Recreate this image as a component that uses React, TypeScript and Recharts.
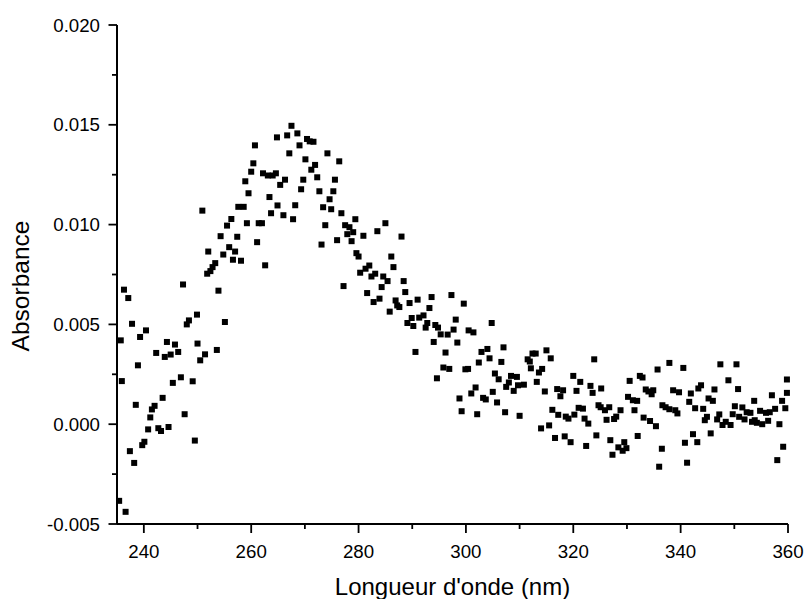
import { Scatter, ScatterChart, XAxis, YAxis, Label } from "recharts";

// [wavelength nm, absorbance]
const rise: [number, number][] = [
  [236.3, 0.00674], [237.1, 0.00632], [247.3, 0.007], [237.8, 0.00503], [240.4, 0.0047],
  [249.9, 0.00549], [248.4, 0.0052], [248.0, 0.005], [235.7, 0.0042], [239.3, 0.00437],
  [244.3, 0.00412], [245.8, 0.00399], [250.0, 0.00404], [242.3, 0.00357], [243.9, 0.00337],
  [245.0, 0.00349], [246.4, 0.00362], [250.5, 0.0032], [238.9, 0.00295], [235.9, 0.00216],
  [245.4, 0.00207], [246.9, 0.00235], [249.1, 0.00215], [243.5, 0.00132], [238.5, 0.00097],
  [242.0, 0.00092], [241.5, 0.00074], [247.6, 0.0005], [241.2, 0.00034], [240.8, -0.00026],
  [242.7, -0.0002], [243.2, -0.00034], [244.6, -0.00014], [240.1, -0.00088], [239.7, -0.00105],
  [249.5, -0.00082], [237.4, -0.00135], [238.2, -0.00194], [235.4, -0.00384], [236.6, -0.00439],
];

const shoulder: [number, number][] = [
  [264.8, 0.01437], [260.7, 0.01397], [260.4, 0.01307], [260.0, 0.01265], [262.2, 0.01257],
  [263.1, 0.01246], [264.0, 0.01246], [264.6, 0.01257], [258.9, 0.01217], [265.4, 0.01199],
  [259.5, 0.01157], [263.4, 0.01138], [264.9, 0.01096], [257.6, 0.01089], [258.6, 0.01089],
  [263.7, 0.01057], [250.9, 0.0107], [256.3, 0.01028], [255.5, 0.00995], [259.2, 0.01007],
  [261.4, 0.01007], [262.0, 0.01007], [254.3, 0.00942], [257.4, 0.00939], [261.1, 0.00912],
  [255.9, 0.00887], [252.0, 0.00865], [254.8, 0.0085], [257.0, 0.00865], [256.6, 0.00824],
  [258.1, 0.00819], [262.6, 0.00796], [253.3, 0.00807], [252.8, 0.00787], [252.4, 0.00767],
  [251.8, 0.00754], [253.9, 0.00669], [255.1, 0.00512], [253.6, 0.00372], [251.4, 0.0035],
];

const peak: [number, number][] = [
  [267.5, 0.01495], [266.7, 0.01447], [268.6, 0.01457], [270.4, 0.01429], [270.9, 0.01417],
  [271.6, 0.01415], [269.0, 0.01397], [267.1, 0.01357], [274.2, 0.01357], [276.4, 0.01317],
  [270.1, 0.01327], [271.9, 0.01299], [271.2, 0.01275], [266.3, 0.01225], [269.7, 0.01225],
  [272.3, 0.01237], [275.6, 0.01225], [269.3, 0.01177], [272.7, 0.01167], [275.3, 0.01167],
  [274.6, 0.01127], [268.2, 0.01097], [273.4, 0.01087], [274.9, 0.01077], [266.0, 0.01047],
  [267.8, 0.01027], [276.8, 0.01057], [279.4, 0.01027], [273.8, 0.00997], [277.5, 0.00997],
  [278.3, 0.00987], [279.0, 0.00962], [277.9, 0.00952], [276.0, 0.00922], [278.7, 0.00917],
  [273.1, 0.009], [279.6, 0.00857], [280.0, 0.0084], [280.3, 0.00759], [277.2, 0.00692],
];

const decay: [number, number][] = [
  [285.0, 0.01007], [283.5, 0.00967], [280.9, 0.00944], [288.0, 0.0094], [286.1, 0.0084],
  [286.5, 0.00787], [282.0, 0.00795], [281.3, 0.00779], [283.1, 0.00754], [282.4, 0.0074],
  [284.6, 0.0074], [285.4, 0.00717], [288.4, 0.00717], [284.3, 0.00687], [281.6, 0.00657],
  [288.7, 0.00662], [283.9, 0.00629], [282.8, 0.00612], [286.9, 0.0062], [287.2, 0.00595],
  [287.6, 0.00587], [289.5, 0.00607], [291.0, 0.00624], [293.6, 0.00637], [293.2, 0.00582],
  [285.8, 0.00564], [289.9, 0.00532], [289.1, 0.00507], [290.2, 0.00492], [291.3, 0.00534],
  [292.1, 0.00545], [292.5, 0.00484], [292.8, 0.00507], [294.3, 0.00497], [294.8, 0.00484],
  [295.3, 0.0045], [294.0, 0.00412], [290.6, 0.00362], [294.6, 0.0023],
];

const tail300: [number, number][] = [
  [297.3, 0.00647], [299.6, 0.00604], [304.8, 0.00507], [298.1, 0.00524], [296.6, 0.00449],
  [297.7, 0.00474], [300.5, 0.0047], [301.4, 0.0046], [298.4, 0.00409], [296.2, 0.00359],
  [304.0, 0.00377], [302.9, 0.00362], [307.0, 0.00385], [304.4, 0.0033], [302.4, 0.00309],
  [306.6, 0.00312], [295.8, 0.00284], [296.9, 0.00277], [299.9, 0.00275], [300.4, 0.00277],
  [305.4, 0.00254], [306.1, 0.00225], [308.4, 0.00242], [309.5, 0.00237], [308.0, 0.00209],
  [307.5, 0.00187], [308.9, 0.00167], [309.7, 0.00195], [301.8, 0.00184], [301.0, 0.00154],
  [305.0, 0.00162], [298.8, 0.00129], [303.2, 0.00132], [303.7, 0.00124], [305.8, 0.00109],
  [299.2, 0.00065], [302.1, 0.0005], [307.3, 0.0006], [310.0, 0.00042],
];

const tail315: [number, number][] = [
  [312.4, 0.00354], [313.0, 0.00354], [315.0, 0.0037], [315.8, 0.0033], [311.5, 0.00325],
  [311.9, 0.00314], [323.9, 0.00325], [312.1, 0.0028], [314.2, 0.00277], [313.6, 0.00259],
  [320.0, 0.00242], [321.3, 0.00212], [313.2, 0.00212], [310.8, 0.00198], [323.2, 0.00192],
  [325.2, 0.00179], [314.7, 0.00164], [317.0, 0.00176], [318.1, 0.0017], [317.6, 0.0014],
  [320.6, 0.00167], [323.6, 0.00157], [324.7, 0.00095], [325.1, 0.00085], [316.1, 0.00072],
  [317.2, 0.00047], [318.6, 0.00038], [319.1, 0.00028], [320.2, 0.00048], [321.0, 0.00082],
  [321.8, 0.00078], [322.1, 0.00028], [322.8, 0.00003], [315.5, -0.00006], [314.0, -0.00021],
  [324.3, -0.00056], [316.6, -0.00069], [318.4, -0.00061], [319.5, -0.0009], [322.4, -0.00109],
];

const tail330: [number, number][] = [
  [337.9, 0.00307], [335.7, 0.00274], [332.4, 0.00242], [332.9, 0.00234], [330.5, 0.00217],
  [333.5, 0.00174], [334.0, 0.00164], [334.9, 0.0017], [334.6, 0.0015], [338.6, 0.0017],
  [339.7, 0.0016], [330.2, 0.00137], [331.1, 0.0012], [331.9, 0.00117], [336.6, 0.00095],
  [337.2, 0.00085], [337.9, 0.00075], [339.0, 0.0007], [339.4, 0.00054], [325.9, 0.0007],
  [326.7, 0.00085], [328.8, 0.0007], [331.4, 0.0007], [328.0, 0.00038], [327.6, 0.00026],
  [326.2, 0.00022], [333.1, 0.00033], [334.3, 0.00016], [335.4, -0.0001], [332.0, -0.00059],
  [326.9, -0.0008], [329.5, -0.0009], [328.4, -0.00116], [329.9, -0.0012], [329.2, -0.00133],
  [327.3, -0.00153], [336.5, -0.00123], [336.0, -0.00213],
];

const tail350: [number, number][] = [
  [340.5, 0.00282], [347.4, 0.003], [350.4, 0.003], [348.9, 0.0022], [350.7, 0.00176],
  [346.3, 0.00174], [343.8, 0.00195], [343.3, 0.00179], [341.9, 0.00154], [345.2, 0.00129],
  [346.0, 0.00117], [341.6, 0.00112], [353.7, 0.00117], [357.0, 0.00145], [358.9, 0.00117],
  [359.8, 0.00157], [359.8, 0.00224], [342.7, 0.0008], [344.2, 0.00077], [350.1, 0.0009],
  [351.5, 0.00084], [352.3, 0.0006], [353.0, 0.00057], [354.8, 0.00067], [355.9, 0.00057],
  [356.6, 0.0006], [357.6, 0.00077], [359.5, 0.0008], [347.2, 0.00049], [346.8, 0.00024],
  [349.7, 0.0005], [344.9, 0.00037], [344.5, 0.0002], [348.4, 0.00012], [347.8, -0.00004],
  [349.3, -0.00004], [350.9, 0.00037], [351.9, 0.00024], [353.3, 0.00012], [354.2, 0.00007],
  [355.2, 0], [356.3, 0.00017], [353.8, 0.0002], [358.4, 0], [345.6, -0.00046],
  [342.3, -0.0005], [340.8, -0.00093], [343.1, -0.0009], [359.1, -0.00113], [358.0, -0.0018],
  [341.2, -0.00193],
];

const xTicks = [240, 250, 260, 270, 280, 290, 300, 310, 320, 330, 340, 350, 360];
const yTicks = [-0.005, -0.0025, 0, 0.0025, 0.005, 0.0075, 0.01, 0.0125, 0.015, 0.0175, 0.02];

const FONT = "'Liberation Sans', Arial, sans-serif";

const points = [...rise, ...shoulder, ...peak, ...decay, ...tail300, ...tail315, ...tail330, ...tail350].map(
  ([nm, abs]) => ({ nm, abs }),
);

const isMajorX = (v: number) => v % 20 === 0;
const isMajorY = (v: number) => Math.abs(Math.round(v / 0.005) * 0.005 - v) < 1e-9;

function XTick(props: any) {
  const { x, y, payload } = props;
  const major = isMajorX(payload.value);
  return (
    <g>
      <line x1={x} x2={x} y1={y} y2={y + (major ? 9 : 5)} stroke="#000" strokeWidth={1.8} />
      {major && (
        <text x={x} y={y + 33.7} textAnchor="middle" fontSize={18.7} fontFamily={FONT} fill="#000">
          {payload.value}
        </text>
      )}
    </g>
  );
}

function YTick(props: any) {
  const { x, y, payload } = props;
  const major = isMajorY(payload.value);
  return (
    <g>
      <line x1={x} x2={x - (major ? 8.5 : 5)} y1={y} y2={y} stroke="#000" strokeWidth={1.8} />
      {major && (
        <text x={x - 17} y={y} dy="0.355em" textAnchor="end" fontSize={18.7} fontFamily={FONT} fill="#000">
          {payload.value.toFixed(3)}
        </text>
      )}
    </g>
  );
}

const Square = (props: any) => {
  const { cx, cy } = props;
  return <rect x={cx - 3} y={cy - 3} width={6} height={6} fill="#000" />;
};

export default function App() {
  // pinned to the page corner so the body margin doesn't push the chart off-screen
  return (
    <div style={{ position: "absolute", left: 0, top: 0, width: 806, height: 599, background: "#fff" }}>
      <ScatterChart width={806} height={599} margin={{ top: 25, right: 18, bottom: 0, left: 0 }}>
        <XAxis
          type="number"
          dataKey="nm"
          domain={[235, 360]}
          ticks={xTicks}
          interval={0}
          height={75}
          tickSize={0}
          tickMargin={0}
          tickLine={false}
          tick={<XTick />}
          axisLine={{ stroke: "#000", strokeWidth: 2 }}
        >
          <Label
            content={(p: any) => {
              const vb = p.viewBox;
              return (
                <text x={vb.x + vb.width / 2} y={vb.y + 71} textAnchor="middle" fontSize={24} fontFamily={FONT} fill="#000">
                  Longueur d'onde (nm)
                </text>
              );
            }}
          />
        </XAxis>
        <YAxis
          type="number"
          dataKey="abs"
          domain={[-0.005, 0.02]}
          ticks={yTicks}
          interval={0}
          width={117}
          tickSize={0}
          tickMargin={0}
          tickLine={false}
          tick={<YTick />}
          axisLine={{ stroke: "#000", strokeWidth: 2 }}
        >
          <Label
            content={() => (
              <text
                x={29}
                y={286}
                transform="rotate(-90, 29, 286)"
                textAnchor="middle"
                fontSize={24.5}
                fontFamily={FONT}
                fill="#000"
              >
                Absorbance
              </text>
            )}
          />
        </YAxis>
        <Scatter data={points} shape={<Square />} isAnimationActive={false} />
      </ScatterChart>
    </div>
  );
}
